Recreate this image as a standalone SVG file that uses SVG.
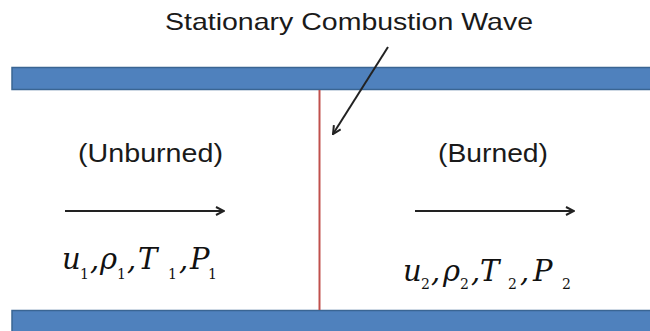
<svg xmlns="http://www.w3.org/2000/svg" width="650" height="331" viewBox="0 0 650 331">
<style>
.bar{fill:#4f81bd;stroke:#3a6593;stroke-width:1.5}
.lbl{font-family:"Liberation Sans",Arial,sans-serif;fill:#1a1a1a}
.m{font-family:"DejaVu Serif","Liberation Serif",serif;font-style:italic;font-size:29px;fill:#111}
.s{font-size:14px;font-style:normal;fill:#111}
.arr{stroke:#222;stroke-width:2;fill:none}
</style>
<defs>
<marker id="ah" viewBox="0 0 10 10" refX="9" refY="5" markerWidth="10" markerHeight="10" markerUnits="userSpaceOnUse" orient="auto">
<path d="M1,1 L9,5 L1,9" fill="none" stroke="#222" stroke-width="2"/>
</marker>
</defs>
<g id="top-wall"><rect class="bar" x="12" y="67.5" width="645" height="22"/></g>
<g id="bottom-wall"><rect class="bar" x="12" y="310.5" width="645" height="30"/></g>
<g id="wave"><line x1="319.5" y1="90" x2="319.5" y2="310" stroke="#c0504d" stroke-width="2"/></g>
<g id="title"><text class="lbl" x="165" y="30" font-size="24" textLength="368" lengthAdjust="spacingAndGlyphs">Stationary Combustion Wave</text></g>
<g id="unburned">
<text class="lbl" x="78" y="162" font-size="25" textLength="145" lengthAdjust="spacingAndGlyphs">(Unburned)</text>
<text class="m" y="269"><tspan x="62">u</tspan><tspan class="s" x="80" y="279">1</tspan><tspan x="90" y="269">,</tspan><tspan x="100">ρ</tspan><tspan class="s" x="117" y="279">1</tspan><tspan x="127" y="269">,</tspan><tspan x="138">T</tspan><tspan class="s" x="168" y="279">1</tspan><tspan x="179" y="269">,</tspan><tspan x="190">P</tspan><tspan class="s" x="208" y="279">1</tspan></text>
</g>
<g id="burned">
<text class="lbl" x="438" y="162" font-size="25" textLength="110" lengthAdjust="spacingAndGlyphs">(Burned)</text>
<text class="m" y="281"><tspan x="403">u</tspan><tspan class="s" x="421" y="289">2</tspan><tspan x="431" y="281">,</tspan><tspan x="443">ρ</tspan><tspan class="s" x="460" y="289">2</tspan><tspan x="471" y="281">,</tspan><tspan x="480">T</tspan><tspan class="s" x="508" y="289">2</tspan><tspan x="520" y="281">,</tspan><tspan x="533">P</tspan><tspan class="s" x="562" y="289">2</tspan></text>
</g>
<g id="connectors">
<line class="arr" x1="65" y1="211" x2="224" y2="211" marker-end="url(#ah)"/>
<line class="arr" x1="415" y1="211" x2="574" y2="211" marker-end="url(#ah)"/>
<line class="arr" x1="388" y1="47" x2="333" y2="134" marker-end="url(#ah)"/>
</g>
</svg>
